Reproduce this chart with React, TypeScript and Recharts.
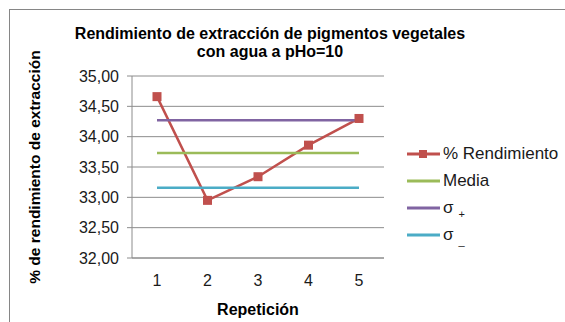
import { LineChart, Line, XAxis, YAxis, CartesianGrid, Legend } from "recharts";

// repetition number on the x axis
const repeticiones = [1, 2, 3, 4, 5];
// extraction yield per repetition (%)
const rendimiento = [34.66, 32.95, 33.34, 33.86, 34.3];
// mean and mean ± one standard deviation
const media = [33.73, 33.73, 33.73, 33.73, 33.73];
const sigmaMas = [34.27, 34.27, 34.27, 34.27, 34.27];
const sigmaMenos = [33.16, 33.16, 33.16, 33.16, 33.16];

const yTicks = [32, 32.5, 33, 33.5, 34, 34.5, 35];

const titulo = ["Rendimiento de extracción de pigmentos vegetales", "con agua a pHo=10"];
const tituloX = "Repetición";
const tituloY = "% de rendimiento de extracción";

const FONT = "'Liberation Sans', Arial, sans-serif";
const GRID = "#8c8c8c";

const data = repeticiones.map((r, i) => ({
  rep: r,
  rendimiento: rendimiento[i],
  media: media[i],
  sigmaMas: sigmaMas[i],
  sigmaMenos: sigmaMenos[i],
}));

const fmt = (v: number) => v.toFixed(2).replace(".", ",");

function LegendLabel({ name }: { name: string }) {
  if (name === "σ+" || name === "σ-") {
    return (
      <span>
        σ<span style={{ fontSize: 11, position: "relative", top: 5, marginLeft: 5 }}>{name === "σ+" ? "+" : "_"}</span>
      </span>
    );
  }
  return <span>{name}</span>;
}

function renderLegend(props: any) {
  const { payload } = props;
  return (
    <div style={{ fontFamily: FONT, fontSize: 17, color: "#1a1a1a" }}>
      {payload.map((p: any) => (
        <div key={p.value} style={{ display: "flex", alignItems: "center", height: 27 }}>
          <svg width={34} height={12} style={{ marginRight: 2 }}>
            <line x1={0} y1={6} x2={33} y2={6} stroke={p.color} strokeWidth={3} />
            {p.dataKey === "rendimiento" && <rect x={12} y={2} width={8} height={8} fill={p.color} />}
          </svg>
          <LegendLabel name={p.value} />
        </div>
      ))}
    </div>
  );
}

// square markers for the yield series
const squareDot = (p: any) => (
  <rect key={p.index} x={p.cx - 4.5} y={p.cy - 4.5} width={9} height={9} fill="#C0504D" />
);

export default function App() {
  return (
    <div style={{ position: "absolute", left: 0, top: 0, width: 565, height: 322, background: "#fff" }}>
      <div
        style={{
          position: "absolute",
          left: 9,
          top: 9,
          width: 556,
          height: 313,
          borderTop: "1px solid #868686",
          borderLeft: "1px solid #868686",
        }}
      />
      <div
        style={{
          position: "absolute",
          left: 0,
          width: 540,
          top: 25,
          textAlign: "center",
          fontFamily: FONT,
          fontWeight: "bold",
          fontSize: 16,
          lineHeight: "18px",
          color: "#000",
        }}
      >
        {titulo.map((t) => (
          <div key={t}>{t}</div>
        ))}
      </div>
      <LineChart
        width={565}
        height={322}
        data={data}
        margin={{ top: 76, right: 181, bottom: 14, left: 32 }}
        style={{ position: "absolute", left: 0, top: 0 }}
      >
        <CartesianGrid vertical={false} stroke={GRID} strokeWidth={1} />
        <XAxis
          dataKey="rep"
          height={50}
          padding={{ left: 25, right: 25 }}
          axisLine={{ stroke: GRID }}
          tickLine={false}
          tickSize={0}
          tickMargin={17}
          tick={{ fill: "#1a1a1a", fontSize: 16, fontFamily: FONT }}
          label={{
            value: tituloX,
            position: "insideBottom",
            offset: -7,
            style: { fontFamily: FONT, fontWeight: "bold", fontSize: 16, fill: "#000" },
          }}
        />
        <YAxis
          width={100}
          domain={[32, 35]}
          ticks={yTicks}
          tickFormatter={fmt}
          axisLine={{ stroke: GRID }}
          tickLine={{ stroke: GRID }}
          tickSize={5}
          tickMargin={8}
          tick={{ fill: "#1a1a1a", fontSize: 16, fontFamily: FONT }}
          label={{
            value: tituloY,
            angle: -90,
            position: "insideLeft",
            offset: 2,
            style: { textAnchor: "middle", fontFamily: FONT, fontWeight: "bold", fontSize: 15.5, fill: "#000" },
          }}
        />
        <Legend
          layout="vertical"
          align="center"
          verticalAlign="middle"
          wrapperStyle={{ left: 407, top: 140, width: 160 }}
          content={renderLegend}
        />
        <Line
          dataKey="rendimiento"
          name="% Rendimiento"
          stroke="#C0504D"
          strokeWidth={2.5}
          dot={squareDot}
          activeDot={false}
          isAnimationActive={false}
        />
        <Line dataKey="media" name="Media" stroke="#9BBB59" strokeWidth={2.5} dot={false} isAnimationActive={false} />
        <Line dataKey="sigmaMas" name="σ+" stroke="#8064A2" strokeWidth={2.5} dot={false} isAnimationActive={false} />
        <Line dataKey="sigmaMenos" name="σ-" stroke="#4BACC6" strokeWidth={2.5} dot={false} isAnimationActive={false} />
      </LineChart>
    </div>
  );
}
